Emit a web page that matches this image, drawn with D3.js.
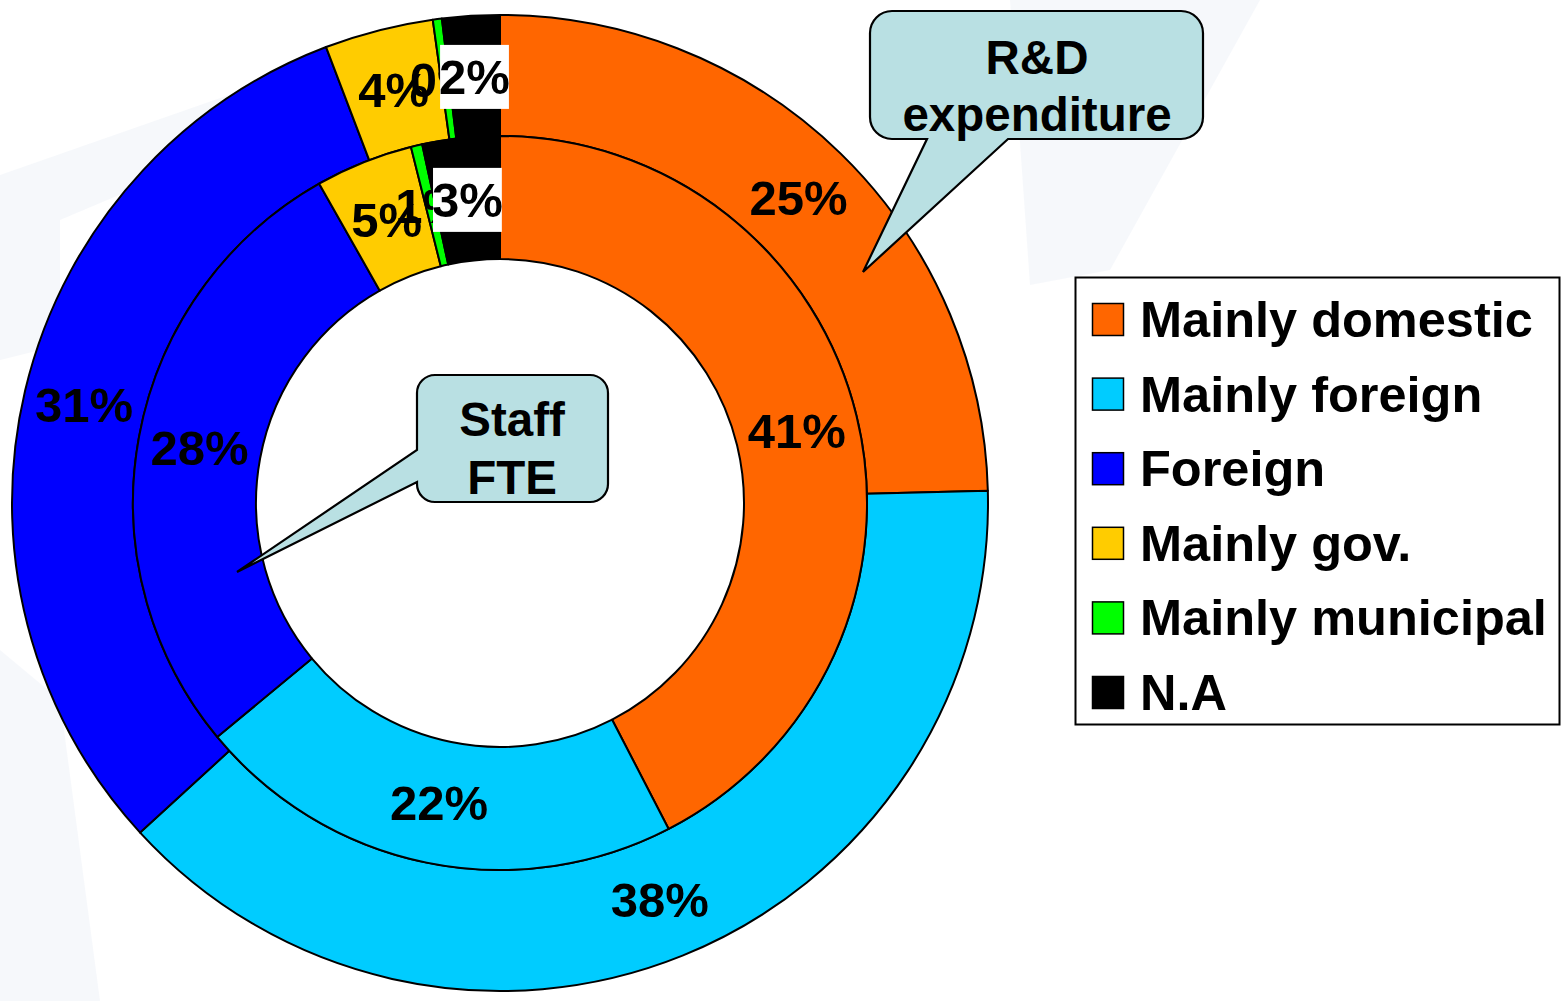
<!DOCTYPE html>
<html>
<head>
<meta charset="utf-8">
<script src="https://cdn.jsdelivr.net/npm/d3@7"></script>
<style>
  html, body { margin: 0; padding: 0; background: #fff; }
  svg text { font-family: "Liberation Sans", Arial, sans-serif; font-weight: bold; fill: #000; }
</style>
</head>
<body>
<div id="chart"></div>
<script>
// categories, legend order
const categories = ['Mainly domestic', 'Mainly foreign', 'Foreign', 'Mainly gov.', 'Mainly municipal', 'N.A'];
const colors = ['#FF6600', '#00CCFF', '#0000FF', '#FFCC00', '#00FF00', '#000000'];

// outer ring = R&D expenditure, inner ring = Staff FTE (shares as drawn)
const rdValues = [24.6, 38.6, 31.0, 3.6, 0.3, 1.9];
const rdLabels = ['25%', '38%', '31%', '4%', '0%', '2%'];
const staffValues = [42.4, 21.6, 27.8, 4.3, 0.5, 3.4];
const staffLabels = ['41%', '22%', '28%', '5%', '1%', '3%'];

const width = 1561, height = 1001;
const cx = 500, cy = 503;
const rOuter = 488, rMid = 367, rHole = 244;

const svg = d3.select('#chart').append('svg')
  .attr('width', width)
  .attr('height', height);

// faint watermark shapes in the background
const wm = svg.append('g').attr('fill', '#eef3f8').attr('opacity', 0.55);
wm.append('path').attr('d', 'M0,175 L300,70 L320,110 L60,220 L60,345 L0,360 Z');
wm.append('path').attr('d', 'M1010,0 L1260,0 L1110,270 L1030,285 Z');
wm.append('path').attr('d', 'M0,650 L60,700 L100,1001 L0,1001 Z');

const color = d3.scaleOrdinal().domain(categories).range(colors);

const pie = d3.pie().sort(null).value(d => d.value);

function ringData(values, labels) {
  return values.map((v, i) => ({ cat: categories[i], value: v, label: labels[i] }));
}

const rings = [
  { name: 'rd', data: pie(ringData(rdValues, rdLabels)), inner: rMid, outer: rOuter },
  { name: 'staff', data: pie(ringData(staffValues, staffLabels)), inner: rHole, outer: rMid }
];

const chart = svg.append('g').attr('transform', `translate(${cx},${cy})`);

rings.forEach(ring => {
  const arc = d3.arc().innerRadius(ring.inner).outerRadius(ring.outer);
  chart.append('g').attr('class', 'slices-' + ring.name)
    .selectAll('path')
    .data(ring.data)
    .join('path')
    .attr('d', arc)
    .attr('fill', d => color(d.data.cat))
    .attr('stroke', '#000')
    .attr('stroke-width', 2)
    .attr('stroke-linejoin', 'round');
});

// data labels, drawn in slice order so later ones sit on top
rings.forEach(ring => {
  const mid = (ring.inner + ring.outer) / 2;
  const labelArc = d3.arc().innerRadius(mid).outerRadius(mid);
  const g = chart.append('g').attr('class', 'labels-' + ring.name);
  ring.data.forEach(d => {
    const [x, y] = labelArc.centroid(d);
    const lg = g.append('g');
    const t = lg.append('text')
      .attr('x', x)
      .attr('y', y)
      .attr('dy', '0.36em')
      .attr('text-anchor', 'middle')
      .attr('font-size', 49)
      .text(d.data.label);
    if (d.data.cat === 'N.A') {
      const bb = t.node().getBBox();
      lg.insert('rect', 'text')
        .attr('x', bb.x + 1)
        .attr('y', bb.y - 5)
        .attr('width', bb.width - 2)
        .attr('height', bb.height + 10)
        .attr('fill', '#fff');
    }
  });
});

// callouts
function roundedCallout(x0, y0, x1, y1, r, pointer) {
  const p = d3.path();
  p.moveTo(x0 + r, y0);
  p.lineTo(x1 - r, y0);
  p.arcTo(x1, y0, x1, y0 + r, r);
  p.lineTo(x1, y1 - r);
  p.arcTo(x1, y1, x1 - r, y1, r);
  if (pointer.side === 'bottom') {
    p.lineTo(pointer.b2, y1);
    p.lineTo(pointer.tx, pointer.ty);
    p.lineTo(pointer.b1, y1);
  }
  p.lineTo(x0 + r, y1);
  p.arcTo(x0, y1, x0, y1 - r, r);
  if (pointer.side === 'left') {
    p.lineTo(x0, pointer.b2);
    p.lineTo(pointer.tx, pointer.ty);
    p.lineTo(x0, pointer.b1);
  }
  p.lineTo(x0, y0 + r);
  p.arcTo(x0, y0, x0 + r, y0, r);
  p.closePath();
  return p.toString();
}

const callouts = [
  { lines: ['R&D', 'expenditure'], box: [870, 11, 1203, 139], r: 22,
    pointer: { side: 'bottom', b1: 927, b2: 1008, tx: 863, ty: 272 },
    tx: 1037, baselines: [74, 131] },
  { lines: ['Staff', 'FTE'], box: [417, 375, 608, 502], r: 18,
    pointer: { side: 'left', b1: 450, b2: 482, tx: 237, ty: 572 },
    tx: 512, baselines: [436, 494] }
];

callouts.forEach(c => {
  const g = svg.append('g').attr('class', 'callout');
  g.append('path')
    .attr('d', roundedCallout(c.box[0], c.box[1], c.box[2], c.box[3], c.r, c.pointer))
    .attr('fill', '#B9E0E3')
    .attr('stroke', '#000')
    .attr('stroke-width', 2.2)
    .attr('stroke-linejoin', 'miter');
  c.lines.forEach((line, i) => {
    g.append('text')
      .attr('x', c.tx)
      .attr('y', c.baselines[i])
      .attr('text-anchor', 'middle')
      .attr('font-size', 47.5)
      .text(line);
  });
});

// legend
const legend = svg.append('g').attr('class', 'legend');
legend.append('rect')
  .attr('x', 1075.5).attr('y', 277.5)
  .attr('width', 484).attr('height', 447)
  .attr('fill', '#fff')
  .attr('stroke', '#000')
  .attr('stroke-width', 2);

const rowY = d3.scalePoint().domain(categories).range([303, 676]);

const rows = legend.selectAll('g.row')
  .data(categories)
  .join('g')
  .attr('class', 'row')
  .attr('transform', d => `translate(1092,${rowY(d)})`);

rows.append('rect')
  .attr('x', 0.5).attr('y', 0.5)
  .attr('width', 31).attr('height', 32)
  .attr('fill', d => color(d))
  .attr('stroke', '#000')
  .attr('stroke-width', 1.5);

rows.append('text')
  .attr('x', 48)
  .attr('y', 34)
  .attr('font-size', 50.5)
  .text(d => d);
</script>
</body>
</html>
